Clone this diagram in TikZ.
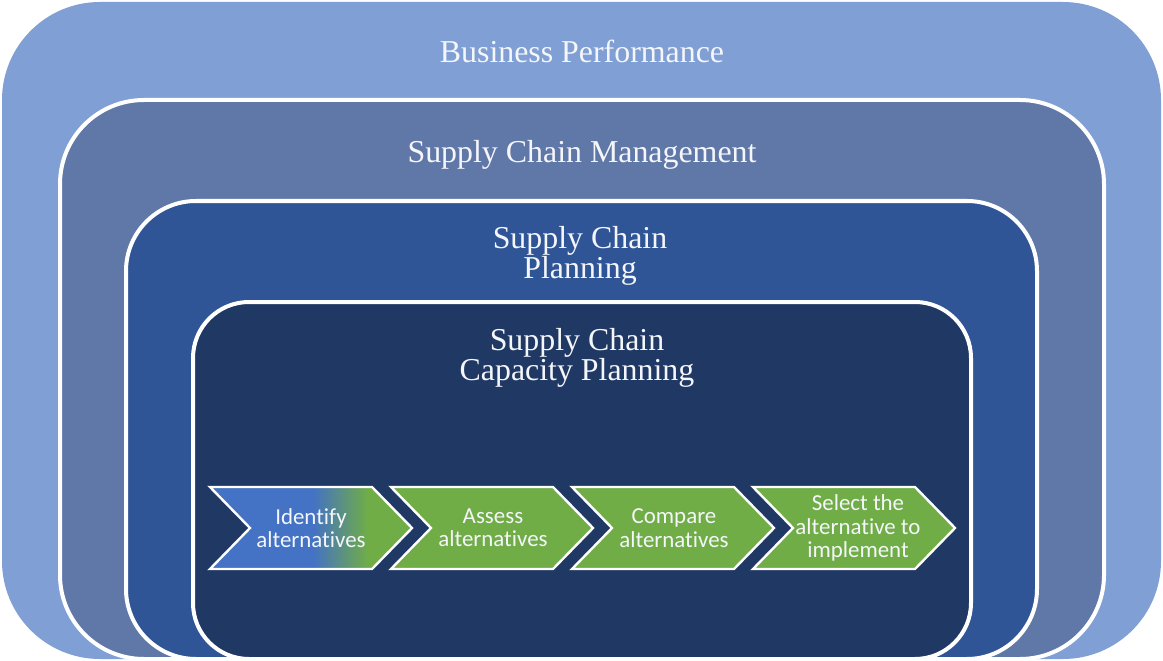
\documentclass[tikz,border=0pt]{standalone}
\usepackage{fontspec}
\setmainfont{Liberation Serif}
\newfontfamily\chevfont[Ligatures=NoCommon]{Carlito}
\definecolor{cA}{HTML}{809FD5}
\definecolor{cB}{HTML}{6078A8}
\definecolor{cC}{HTML}{2F5597}
\definecolor{cD}{HTML}{203864}
\definecolor{cGreen}{HTML}{70AD47}
\definecolor{cBlue}{HTML}{4472C4}
\definecolor{cText}{HTML}{F4F6FA}
\tikzset{
  layerbox/.style={draw=white, line width=4bp},
  headtxt/.style={text=cText, font=\fontsize{32}{30}\selectfont, align=center, inner sep=0pt},
  chevtxt/.style={text=cText, font=\chevfont\fontsize{23}{23.5}\selectfont, align=center, inner sep=0pt},
  chevedge/.style={draw=white, line width=2.4bp, line join=miter},
}
\newcommand{\chevpath}[1]{(#1,487) -- ++(162,0) -- ++(40,41) -- ++(-40,41) -- ++(-162,0) -- ++(40,-41) -- cycle}
\begin{document}
\begin{tikzpicture}[x=1bp,y=-1bp]
\useasboundingbox (0,0) rectangle (1163,661);
\fill[white] (0,0) rectangle (1163,661);
% layers
\fill[cA, rounded corners=98bp] (2,2) rectangle (1161,659);
\filldraw[cB, layerbox, rounded corners=84bp] (60,100) rectangle (1104,659);
\filldraw[cC, layerbox, rounded corners=70bp] (126,201) rectangle (1037,659);
\filldraw[cD, layerbox, rounded corners=56bp] (193,302) rectangle (971,659);
% titles
\node[headtxt] (bp) at (582,51) {Business Performance};
\node[headtxt] (scm) at (582,155) {Supply Chain Management};
\node[headtxt] (scp) at (580,256) {Supply Chain\\Planning};
\node[headtxt] (sccp) at (577,358) {Supply Chain\\Capacity Planning};
% chevron 1 with gradient
\begin{scope}
  \clip \chevpath{210};
  \fill[cBlue] (205,480) rectangle (314,575);
  \shade[left color=cBlue, right color=cGreen] (313,480) rectangle (368,575);
  \fill[cGreen] (367,480) rectangle (420,575);
\end{scope}
\draw[chevedge] \chevpath{210};
\filldraw[cGreen, chevedge] \chevpath{391};
\filldraw[cGreen, chevedge] \chevpath{572};
\filldraw[cGreen, chevedge] \chevpath{753};
\node[chevtxt] (c1) at (311,528) {Identify\\alternatives};
\node[chevtxt] (c2) at (493,528) {Assess\\alternatives};
\node[chevtxt] (c3) at (674,528) {Compare\\alternatives};
\node[chevtxt] (c4) at (858,528) {Select the\\alternative to\\implement};
\end{tikzpicture}
\end{document}
